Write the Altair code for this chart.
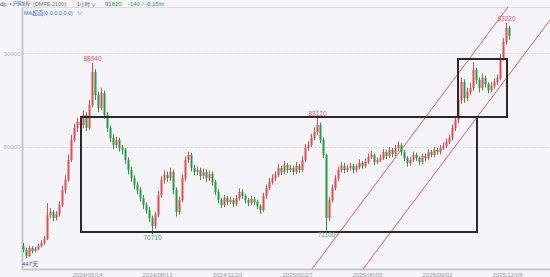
import altair as alt
import pandas as pd

# ---------------- data ----------------
first_open = 69500
closes = [69040, 68400, 69250, 68930, 69150, 69470, 69790, 70210, 72760, 73080,
          72450, 72870, 73830, 75420, 76490, 78620, 80740, 82020, 82660, 82340,
          83400, 82020, 84470, 87980, 85530, 84150, 85750, 83400, 82020, 80960,
          80210, 80740, 79890, 79680, 78620, 77550, 76700, 75960, 75420, 74570,
          73830, 73300, 72450, 71590, 72760, 74890, 76490, 77020, 76700, 77340,
          75420, 73080, 74360, 76700, 78620, 79150, 77770, 77340, 77550, 76910,
          77340, 76700, 77130, 76280, 75210, 74360, 73830, 74570, 74150, 74360,
          73940, 74570, 75210, 74790, 74360, 74040, 74470, 74150, 73720, 73300,
          74790, 75640, 76280, 76700, 77020, 77770, 77340, 78080, 77550, 77770,
          77340, 78000, 77550, 78620, 79890, 80210, 80960, 81600, 82340, 80740,
          79150, 72450, 74360, 75640, 76700, 77550, 78000, 77550, 77770, 78000,
          77550, 77870, 78300, 78000, 78400, 78940, 79150, 78400, 78620, 78830,
          79470, 79040, 79680, 79260, 79890, 80210, 79470, 78830, 78300, 78620,
          79150, 78830, 78400, 79040, 78830, 79470, 79150, 79680, 79470, 79890,
          80110, 80530, 80960, 82020, 82870, 84990, 86910, 85210, 85850, 86280,
          88190, 87130, 86280, 87340, 86700, 86060, 86490, 86910, 87340, 89470,
          91170, 92660, 91820]
highs = [69800, 69300, 69500, 69450, 69400, 69700, 70100, 70500, 74040, 73500,
         73300, 73200, 74200, 75900, 77000, 79200, 81300, 82500, 83100, 83000,
         83900, 83700, 85000, 88940, 88300, 85900, 86300, 86000, 83700, 82300,
         81300, 81100, 81000, 80200, 79900, 78900, 77900, 77000, 76300, 75700,
         74900, 74100, 73600, 72700, 73100, 75300, 76900, 77500, 77400, 77800,
         77600, 75700, 74700, 77100, 79000, 79500, 79400, 78100, 77900, 77800,
         77700, 77600, 77500, 77400, 76500, 75500, 74600, 74900, 74800, 74700,
         74600, 74900, 75600, 75500, 75000, 74600, 74800, 74700, 74400, 73900,
         75100, 76000, 76700, 77100, 77400, 78200, 78000, 78500, 78300, 78100,
         78000, 78400, 78200, 79000, 80300, 80600, 81400, 82100, 83120, 82600,
         81000, 79300, 74700, 76000, 77000, 77900, 78400, 78300, 78100, 78300,
         78200, 78200, 78700, 78500, 78800, 79300, 79600, 79300, 78900, 79200,
         79800, 79700, 80000, 79900, 80200, 80600, 80400, 79700, 79000, 78900,
         79500, 79400, 79000, 79300, 79300, 79800, 79700, 80000, 79900, 80200,
         80500, 80900, 81300, 82400, 83300, 85500, 87400, 87200, 86300, 86800,
         89040, 88400, 87400, 87800, 87600, 86900, 86900, 87300, 87700, 89900,
         91600, 93220, 92900]
lows = [68800, 68190, 68300, 68700, 68800, 69000, 69300, 69600, 70100, 72400,
        72100, 72200, 72600, 73600, 75100, 76300, 78400, 80500, 81600, 81800,
        82000, 81700, 81800, 84200, 85000, 83700, 83900, 83000, 81600, 80500,
        79800, 79900, 79500, 79200, 78200, 77100, 76300, 75500, 75000, 74200,
        73400, 72900, 72000, 70710, 71300, 72500, 74600, 76100, 76300, 76400,
        75000, 72600, 72800, 74100, 76400, 78300, 77400, 77000, 77000, 76500,
        76600, 76300, 76400, 75900, 74900, 74000, 73500, 73600, 73800, 73900,
        73600, 73700, 74300, 74500, 74000, 73700, 73800, 73800, 73400, 72900,
        73100, 74500, 75400, 76000, 76400, 76800, 77000, 77100, 77200, 77300,
        77000, 77100, 77200, 77300, 78400, 79600, 80000, 80700, 81300, 80400,
        78800, 71100, 72100, 74100, 75400, 76400, 77300, 77200, 77300, 77500,
        77200, 77300, 77600, 77700, 77800, 78200, 78700, 78100, 78200, 78400,
        78600, 78700, 78800, 78900, 79000, 79600, 79100, 78500, 77900, 78000,
        78400, 78500, 78100, 78200, 78500, 78600, 78900, 78900, 79200, 79200,
        79700, 79900, 80300, 80700, 81700, 82500, 84600, 84700, 84900, 85500,
        86000, 86700, 85800, 86000, 86300, 85700, 85800, 86200, 86600, 87100,
        89200, 90900, 91400]

date_labels = ["2024/05/14", "2024/08/13", "2024/11/20", "2025/02/27",
               "2025/06/05", "2025/09/02", "2025/12/09"]
date_ticks = [21.67, 45.0, 68.33, 91.67, 115.0, 138.33, 161.67]
price_ticks = [80000, 90000]

# boxes (bar-index from/to, price from/to)
box_t1 = [19.67, 145.33]
box_t2 = [151.67, 161.67]
box_p1 = [70960, 83190]
box_p2 = [83190, 89360]

# parallel channel lines
line_t1 = [96.67, 113.67]
line_p1 = [67020, 67020]
line_t2 = [162.0, 176.0]
line_p2 = [94894, 93513]

# extreme labels
mark_idx = [23, 98, 161, 43, 101]
mark_txt = ["88940", "83120", "93220", "70710", "71100"]
mark_kind = ["high", "high", "high", "low", "low"]

# ---------------- build tables ----------------
n = len(closes)
opens = [first_open] + closes[:-1]
df = pd.DataFrame({
    "t": [i + 0.5 for i in range(n)],
    "open": opens, "close": closes, "high": highs, "low": lows,
})
df["dir"] = ["up" if c >= o else "down" for o, c in zip(opens, closes)]

boxes = pd.DataFrame({"t1": box_t1, "t2": box_t2, "p1": box_p1, "p2": box_p2})
lines = pd.DataFrame({"t1": line_t1, "p1": line_p1, "t2": line_t2, "p2": line_p2})
hi_lab = pd.DataFrame({
    "t": [mark_idx[k] + 0.5 for k in range(5) if mark_kind[k] == "high"],
    "p": [highs[mark_idx[k]] for k in range(5) if mark_kind[k] == "high"],
    "txt": [mark_txt[k] for k in range(5) if mark_kind[k] == "high"],
})
lo_lab = pd.DataFrame({
    "t": [mark_idx[k] + 0.5 for k in range(5) if mark_kind[k] == "low"],
    "p": [lows[mark_idx[k]] for k in range(5) if mark_kind[k] == "low"],
    "txt": [mark_txt[k] for k in range(5) if mark_kind[k] == "low"],
})

FONT = "Liberation Sans, Noto Sans CJK SC, sans-serif"
xs = alt.Scale(domain=[0, 176], nice=False, zero=False)
ys = alt.Scale(domain=[67020, 94894], nice=False, zero=False)
col = alt.Scale(domain=["up", "down"], range=["#e64a4e", "#249c42"])

label_expr = " : ".join(
    f"datum.value == {v} ? '{l}'" for v, l in zip(date_ticks, date_labels)
) + " : ''"

x_axis = alt.Axis(values=date_ticks, labelExpr=label_expr, title=None,
                  grid=False, ticks=False, domainColor="#c6c6ce", domainWidth=2,
                  labelFontSize=6, labelColor="#9a9aa2", labelPadding=2,
                  labelFont=FONT)
y_axis = alt.Axis(values=price_ticks, title=None, format="d", grid=True,
                  gridDash=[2, 2], gridColor="#d4d4dc", ticks=False,
                  domainColor="#c6c6ce", domainWidth=2, labelFontSize=6,
                  labelColor="#b4b4bc", labelPadding=2, labelFont=FONT)

base = alt.Chart(df)
wicks = base.mark_rule(strokeWidth=1).encode(
    x=alt.X("t:Q", scale=xs, axis=x_axis),
    y=alt.Y("low:Q", scale=ys, axis=y_axis),
    y2="high:Q",
    color=alt.Color("dir:N", scale=col, legend=None),
)
bodies = base.mark_rule(strokeWidth=2).encode(
    x=alt.X("t:Q", scale=xs),
    y=alt.Y("open:Q", scale=ys),
    y2="close:Q",
    color=alt.Color("dir:N", scale=col, legend=None),
)

box_layer = alt.Chart(boxes).mark_rect(filled=False, stroke="#2a2a2a",
                                       strokeWidth=2).encode(
    x=alt.X("t1:Q", scale=xs), x2="t2:Q",
    y=alt.Y("p1:Q", scale=ys), y2="p2:Q",
)
line_layer = alt.Chart(lines).mark_rule(color="#f05a5a", strokeWidth=1,
                                        clip=True).encode(
    x=alt.X("t1:Q", scale=xs), x2="t2:Q",
    y=alt.Y("p1:Q", scale=ys), y2="p2:Q",
)
hi_text = alt.Chart(hi_lab).mark_text(fontSize=6.5, color="#e8565a",
                                      baseline="bottom", dy=-1, font=FONT).encode(
    x=alt.X("t:Q", scale=xs), y=alt.Y("p:Q", scale=ys), text="txt:N")
lo_text = alt.Chart(lo_lab).mark_text(fontSize=6.5, color="#58a868",
                                      baseline="top", dy=1, font=FONT).encode(
    x=alt.X("t:Q", scale=xs), y=alt.Y("p:Q", scale=ys), text="txt:N")

one = pd.DataFrame({"k": [0]})


def note(txt, x, y, color, size=6, align="left"):
    return alt.Chart(one).mark_text(text=txt, fontSize=size, color=color,
                                    align=align, baseline="middle",
                                    font=FONT).encode(
        x=alt.value(x), y=alt.value(y))


notes = [
    note("dp", -22, -3, "#555555"),
    note("●", -12.5, -3, "#2a55c0", size=3.5),
    note("沪铜加权", -9.5, -3, "#2a4fb0", size=4.3),
    note("◎", 8, -4, "#e05050", size=3),
    note("(DMFE 2100)", 11, -3, "#777777", size=5.5),
    note("1小时", 55, -3, "#555555", size=5),
    note("∨", 69, -3, "#555555", size=5),
    note("91820", 83, -3, "#2a9d4a"),
    note("-140 / -0.15%", 106, -3, "#2a9d4a"),
    note("MA超面(0,0,0,0,0,0)", 2, 5.5, "#3a6fd8", size=5.5),
    note("∨", 55, 5.5, "#3a6fd8", size=5.5),
    note("447天", 0, 257, "#4455cc"),
]

chart = alt.layer(line_layer, wicks, bodies, box_layer, hi_text, lo_text,
                  *notes).properties(
    width=528, height=262,
    autosize=alt.AutoSizeParams(type="none"),
    padding={"left": 22, "top": 7, "right": 0, "bottom": 8},
    background="#f4f4f9",
).configure_view(stroke="#dcdce2", strokeWidth=1)

chart.save("out.html", embed_options={"renderer": "svg", "actions": False})
